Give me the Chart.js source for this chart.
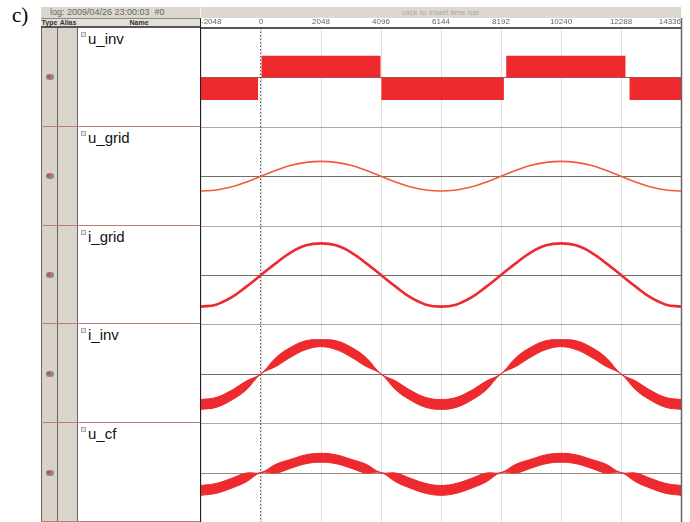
<!DOCTYPE html>
<html>
<head>
<meta charset="utf-8">
<script src="https://cdn.jsdelivr.net/npm/chart.js@4.4.1/dist/chart.umd.min.js"></script>
<style>
  body { margin: 0; width: 690px; height: 522px; background: #fff; position: relative; overflow: hidden; font-family: Arial, "Liberation Sans", sans-serif; }
  .abs { position: absolute; box-sizing: border-box; }
  #label { left: 12px; top: 3px; font: 21px "Liberation Serif", serif; color: #000; }
  #topbar { left: 41px; top: 7px; width: 640px; height: 11px; background: #dcd8cf; }
  #topbar .log { left: 9px; top: 0; font-size: 9px; line-height: 11px; color: #666; }
  #topbar .hint { left: 361px; top: 0; font-size: 8px; line-height: 11px; color: #aeaaa2; }
  #topbar .sep { left: 159px; top: 0; width: 1px; height: 11px; background: #f2f0ec; }
  #head { left: 41px; top: 18px; width: 159px; height: 10px; background: #e2dfd8; border-top: 1px solid #8a8882; border-bottom: 2px solid #555; }
  #head div { top: 0; font-size: 7px; font-weight: bold; line-height: 8px; color: #333; text-align: center; }
  .row { left: 41px; width: 159px; border-bottom: 1px solid #b88070; }
  .cType { left: 0; top: 0; bottom: 0; width: 17px; background: #d8d2c8; border-left: 1px solid #666; border-right: 1px solid #666; }
  .cAlias { left: 17px; top: 0; bottom: 0; width: 20px; background: #dad4ca; border-right: 1px solid #666; }
  .cName { left: 37px; top: 0; bottom: 0; width: 122px; background: #fff; }
  .icon { left: 4px; width: 8px; height: 6px; border-radius: 3px; background: radial-gradient(circle at 35% 40%, #d44 0 25%, #8a8a8a 30% 100%); }
  .plus { left: 3px; top: 4px; width: 5px; height: 5px; background: #e6e6e6; border: 1px solid #aaa; }
  .name { left: 10px; top: 2px; font-size: 15px; line-height: 17px; color: #111; }
  #wrap { left: 200px; top: 18px; width: 484px; height: 504px; }
</style>
</head>
<body>
<div class="abs" id="label">c)</div>
<div class="abs" id="topbar">
  <div class="abs log">log: 2009/04/26 23:00:03 &nbsp;#0</div>
  <div class="abs sep"></div>
  <div class="abs hint">click to insert time bar</div>
</div>
<div class="abs" id="head">
  <div class="abs" style="left:0;width:17px;">Type</div>
  <div class="abs" style="left:17px;width:20px;">Alias</div>
  <div class="abs" style="left:37px;width:122px;">Name</div>
</div>
<div id="rows"></div>
<div class="abs" id="wrap"><canvas id="scope" width="484" height="504"></canvas></div>

<script>
// time axis (samples)
const times = [-2048, -1536, -1024, -512, 0, 512, 1024, 1536, 2048, 2560, 3072, 3584, 4096,
  4608, 5120, 5632, 6144, 6656, 7168, 7680, 8192, 8704, 9216, 9728, 10240,
  10752, 11264, 11776, 12288, 12800, 13312, 13824, 14336];
const timeTicks = [-2048, 0, 2048, 4096, 6144, 8192, 10240, 12288, 14336];

// signal names, top to bottom
const names = ['u_inv', 'u_grid', 'i_grid', 'i_inv', 'u_cf'];

// u_inv: switching levels, each held until the next edge
const uInvT = [-2048, -100, 20, 4080, 4110, 8290, 8370, 12440, 12580, 14336];
const uInvV = [-23, 0, 22, 0, -23, 0, 22, 0, -23, -23];

// u_grid, i_grid
const uGrid = [-15, -14, -11, -6, 0, 6, 11, 14, 15, 14, 11, 6, 0, -6, -11, -14, -15,
  -14, -11, -6, 0, 6, 11, 14, 15, 14, 11, 6, 0, -6, -11, -14, -15];
const iGrid = [-32, -30, -23, -12, 0, 12, 23, 30, 32, 30, 23, 12, 0, -12, -23, -30, -32,
  -30, -23, -12, 0, 12, 23, 30, 32, 30, 23, 12, 0, -12, -23, -30, -32];

// i_inv ripple envelope
const iInvHi = [-26, -24, -17, -7.5, 0, 16.5, 27, 33.5, 34.5, 33.5, 27, 16.5, 0, -7.5, -17, -24, -26,
  -24, -17, -7.5, 0, 16.5, 27, 33.5, 34.5, 33.5, 27, 16.5, 0, -7.5, -17, -24, -26];
const iInvLo = [-36, -34, -27, -16.5, 0, 7.5, 17, 24.5, 27.5, 24.5, 17, 7.5, 0, -16.5, -27, -34, -36,
  -34, -27, -16.5, 0, 7.5, 17, 24.5, 27.5, 24.5, 17, 7.5, 0, -16.5, -27, -34, -36];

// u_cf ripple envelope
const uCfHi = [-13, -11, -6, -0.5, 0, 8.5, 13.5, 18, 19.5, 18, 13.5, 8.5, 0, -0.5, -6, -11, -13,
  -11, -6, -0.5, 0, 8.5, 13.5, 18, 19.5, 18, 13.5, 8.5, 0, -0.5, -6, -11, -13];
const uCfLo = [-23, -21, -16, -9.5, 0, -0.5, 4.5, 9, 10.5, 9, 4.5, -0.5, 0, -9.5, -16, -21, -23,
  -21, -16, -9.5, 0, -0.5, 4.5, 9, 10.5, 9, 4.5, -0.5, 0, -9.5, -16, -21, -23];

const RED = '#ee2a2e';
const rowIds = ['yInv', 'yGrid', 'yIgrid', 'yIinv', 'yCf'];

// left panel rows
const rowH = 494 / names.length;
const rowsEl = document.getElementById('rows');
names.forEach((n, i) => {
  const r = document.createElement('div');
  r.className = 'abs row';
  r.style.top = (28 + i * rowH) + 'px';
  r.style.height = rowH + 'px';
  r.innerHTML = '<div class="abs cType"><div class="abs icon" style="top:' + (rowH / 2 - 3) + 'px"></div></div>' +
    '<div class="abs cAlias"></div>' +
    '<div class="abs cName"><div class="abs plus"></div><div class="abs name">' + n + '</div></div>';
  rowsEl.appendChild(r);
});

const pts = (xs, ys) => xs.map((x, i) => ({ x: x, y: ys[i] }));

const rowAxis = (weight) => ({
  type: 'linear', min: -50, max: 50,
  stack: 'rows', stackWeight: 1, weight: weight,
  ticks: { display: false },
  grid: { display: false },
  border: { display: false },
  afterFit: s => { s.width = 0; }
});

const scopeLines = {
  id: 'scopeLines',
  beforeDatasetsDraw(chart) {
    const { ctx, chartArea: a, scales } = chart;
    ctx.save();
    rowIds.forEach((id, i) => {
      const s = scales[id];
      ctx.lineWidth = 1;
      if (i > 0) {
        ctx.strokeStyle = '#a9a9a9';
        ctx.beginPath();
        ctx.moveTo(a.left, Math.round(s.top) + 0.5);
        ctx.lineTo(a.right, Math.round(s.top) + 0.5);
        ctx.stroke();
      }
      const y0 = Math.round(s.getPixelForValue(0)) + 0.5;
      ctx.strokeStyle = i === 4 ? '#9c8a80' : '#6e6e66';
      ctx.beginPath();
      ctx.moveTo(a.left, y0);
      ctx.lineTo(a.right, y0);
      ctx.stroke();
    });
    const x0 = Math.round(scales.x.getPixelForValue(0)) - 0.5;
    ctx.setLineDash([1.5, 2]);
    ctx.strokeStyle = '#555';
    ctx.beginPath();
    ctx.moveTo(x0, a.top);
    ctx.lineTo(x0, a.bottom);
    ctx.stroke();
    ctx.restore();
  },
  afterDraw(chart) {
    const { ctx, chartArea: a } = chart;
    ctx.save();
    ctx.strokeStyle = '#222';
    ctx.lineWidth = 2;
    ctx.beginPath();
    ctx.moveTo(a.left - 1, 0);
    ctx.lineTo(a.left - 1, a.bottom);
    ctx.stroke();
    ctx.strokeStyle = '#666';
    ctx.lineWidth = 1.5;
    ctx.beginPath();
    ctx.moveTo(a.right + 0.5, 0);
    ctx.lineTo(a.right + 0.5, a.bottom);
    ctx.stroke();
    ctx.restore();
  }
};

new Chart(document.getElementById('scope'), {
  type: 'line',
  data: {
    datasets: [
      { data: pts(uInvT, uInvV), yAxisID: 'yInv', stepped: true, fill: 'origin',
        backgroundColor: RED, borderColor: 'rgba(0,0,0,0)', pointRadius: 0 },
      { data: pts(times, uGrid), yAxisID: 'yGrid', borderColor: '#f15a3c', borderWidth: 1.6,
        tension: 0.4, pointRadius: 0, fill: false },
      { data: pts(times, iGrid), yAxisID: 'yIgrid', borderColor: RED, borderWidth: 2.6,
        tension: 0.4, pointRadius: 0, fill: false },
      { data: pts(times, iInvLo), yAxisID: 'yIinv', borderColor: RED, borderWidth: 1,
        tension: 0.4, pointRadius: 0, fill: false },
      { data: pts(times, iInvHi), yAxisID: 'yIinv', borderColor: RED, borderWidth: 1,
        backgroundColor: RED, tension: 0.4, pointRadius: 0, fill: '-1' },
      { data: pts(times, uCfLo), yAxisID: 'yCf', borderColor: RED, borderWidth: 1,
        tension: 0.4, pointRadius: 0, fill: false },
      { data: pts(times, uCfHi), yAxisID: 'yCf', borderColor: RED, borderWidth: 1,
        backgroundColor: RED, tension: 0.4, pointRadius: 0, fill: '-1' }
    ]
  },
  options: {
    responsive: false,
    animation: false,
    layout: { padding: { left: 1, right: 3, top: 0, bottom: 0 } },
    plugins: { legend: { display: false }, tooltip: { enabled: false } },
    scales: {
      x: {
        type: 'linear', position: 'top', min: -2048, max: 14336,
        afterBuildTicks: s => { s.ticks = timeTicks.map(v => ({ value: v })); },
        afterFit: s => { s.height = 10; },
        ticks: { font: { size: 8, family: 'Arial' }, color: '#666', padding: 1, align: 'inner',
          maxRotation: 0, autoSkip: false, callback: v => String(v) },
        grid: { color: '#e0e0e0', drawTicks: false, tickLength: 0 },
        border: { display: true, color: '#555', width: 2 }
      },
      yInv: rowAxis(5),
      yGrid: rowAxis(4),
      yIgrid: rowAxis(3),
      yIinv: rowAxis(2),
      yCf: rowAxis(1)
    }
  },
  plugins: [scopeLines]
});
</script>
</body>
</html>
